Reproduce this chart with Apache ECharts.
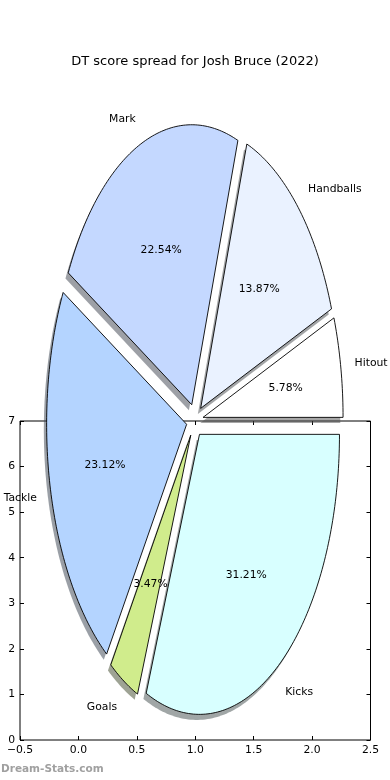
<!DOCTYPE html>
<html><head><meta charset="utf-8">
<script src="https://cdn.jsdelivr.net/npm/echarts@6/dist/echarts.min.js"></script>
<style>html,body{margin:0;padding:0;background:#fff}#c{width:390px;height:780px}</style>
</head><body><div id="c"></div>
<script>
const titleText = 'DT score spread for Josh Bruce (2022)';
const categories = ['Hitout', 'Handballs', 'Mark', 'Tackle', 'Goals', 'Kicks'];
const shares = [5.78, 13.87, 22.54, 23.12, 3.47, 31.21];
const sliceColors = ['#ffffff', '#eaf2ff', '#c4d8ff', '#b4d4ff', '#d0ec8c', '#d8ffff'];
const explode = [0.06, 0.06, 0.06, 0.06, 0.06, 0.06];
const xTicks = [-0.5, 0, 0.5, 1, 1.5, 2, 2.5];
const yTicks = [0, 1, 2, 3, 4, 5, 6, 7];
const watermark = 'Dream-Stats.com';

const FONT = 'DejaVu Sans';
const total = shares.reduce((a, b) => a + b, 0);
const startA = [], endA = [];
let acc = 0;
shares.forEach(v => { startA.push(acc / total * 360); acc += v; endA.push(acc / total * 360); });

function hexToRgb(h) {
  return [parseInt(h.slice(1, 3), 16), parseInt(h.slice(3, 5), 16), parseInt(h.slice(5, 7), 16)];
}
function shadowColor(h) {
  const c = hexToRgb(h).map(v => Math.round(v * 0.3));
  return 'rgba(' + c.join(',') + ',0.5)';
}

function wedgePoints(i, api, ox, oy) {
  const t1 = startA[i], t2 = endA[i];
  const mid = (t1 + t2) / 2 * Math.PI / 180;
  const cx = explode[i] * Math.cos(mid) + ox, cy = explode[i] * Math.sin(mid) + oy;
  const pts = [api.coord([cx, cy])];
  const n = Math.max(2, Math.ceil(t2 - t1));
  for (let k = 0; k <= n; k++) {
    const a = (t1 + (t2 - t1) * k / n) * Math.PI / 180;
    pts.push(api.coord([cx + Math.cos(a), cy + Math.sin(a)]));
  }
  return pts;
}

function renderShadow(params, api) {
  const i = params.dataIndex;
  return { type: 'polygon', shape: { points: wedgePoints(i, api, -0.02, -0.02) },
    style: { fill: shadowColor(sliceColors[i]), stroke: null } };
}
function renderWedge(params, api) {
  const i = params.dataIndex;
  return { type: 'polygon', shape: { points: wedgePoints(i, api, 0, 0) },
    style: { fill: sliceColors[i], stroke: '#000', lineWidth: 0.9 } };
}
function renderLabels(params, api) {
  const i = params.dataIndex;
  const mid = (startA[i] + endA[i]) / 2 * Math.PI / 180;
  const cx = explode[i] * Math.cos(mid), cy = explode[i] * Math.sin(mid);
  const lp = api.coord([cx + 1.1 * Math.cos(mid), cy + 1.1 * Math.sin(mid)]);
  const pp = api.coord([cx + 0.6 * Math.cos(mid), cy + 0.6 * Math.sin(mid)]);
  return { type: 'group', children: [
    { type: 'text', x: lp[0], y: lp[1] + 1.5, style: { text: categories[i], fontFamily: FONT, fontSize: 10.8, fill: '#000',
      align: Math.cos(mid) > 0 ? 'left' : 'right', verticalAlign: 'middle' } },
    { type: 'text', x: pp[0], y: pp[1] + 1.5, style: { text: shares[i].toFixed(2) + '%', fontFamily: FONT, fontSize: 10.8, fill: '#000',
      align: 'center', verticalAlign: 'middle' } }
  ] };
}

const pieData = categories.map((c, i) => ({ name: c, value: [0, 0, shares[i]] }));
const fmtX = v => (v < 0 ? '\u2212' : '') + Math.abs(v).toFixed(1);

const tickStyle = { show: true, inside: true, length: 4, lineStyle: { color: '#000', width: 1 } };
const noLine = { show: false, onZero: false };
const option = {
  animation: false,
  backgroundColor: '#fff',
  title: { text: titleText, left: 'center', top: 50, textStyle: { fontFamily: FONT, fontSize: 13, fontWeight: 'normal', color: '#000' } },
  graphic: [{ type: 'text', left: 1, top: 764, style: { text: watermark, fontFamily: FONT, fontWeight: 'bold', fontSize: 10.5, fill: '#a0a0a0' } }],
  grid: [
    { left: 20, top: 421, width: 350.5, height: 319, show: true, borderColor: '#000', borderWidth: 1, backgroundColor: 'transparent' },
    { left: 0, top: 0, width: 390, height: 780, show: false }
  ],
  xAxis: [
    { gridIndex: 0, type: 'value', position: 'bottom', min: xTicks[0], max: xTicks[xTicks.length - 1], interval: 0.5,
      axisLine: noLine, axisTick: tickStyle, splitLine: { show: false },
      axisLabel: { fontFamily: FONT, fontSize: 10.8, color: '#000', margin: 5, formatter: fmtX } },
    { gridIndex: 0, type: 'value', position: 'top', min: xTicks[0], max: xTicks[xTicks.length - 1], interval: 0.5,
      axisLine: noLine, axisTick: tickStyle, splitLine: { show: false }, axisLabel: { show: false } },
    { gridIndex: 1, type: 'value', min: -1.39143, max: 1.39429, show: false }
  ],
  yAxis: [
    { gridIndex: 0, type: 'value', position: 'left', min: yTicks[0], max: yTicks[yTicks.length - 1], interval: 1,
      axisLine: noLine, axisTick: tickStyle, splitLine: { show: false },
      axisLabel: { fontFamily: FONT, fontSize: 10.8, color: '#000', margin: 5 } },
    { gridIndex: 0, type: 'value', position: 'right', min: yTicks[0], max: yTicks[yTicks.length - 1], interval: 1,
      axisLine: noLine, axisTick: tickStyle, splitLine: { show: false }, axisLabel: { show: false } },
    { gridIndex: 1, type: 'value', min: -1.28429, max: 1.50143, show: false }
  ],
  series: [
    { type: 'custom', xAxisIndex: 2, yAxisIndex: 2, clip: false, z: 2, data: pieData, renderItem: renderShadow, silent: true },
    { type: 'custom', xAxisIndex: 2, yAxisIndex: 2, clip: false, z: 3, data: pieData, renderItem: renderWedge, silent: true },
    { type: 'custom', xAxisIndex: 2, yAxisIndex: 2, clip: false, z: 4, data: pieData, renderItem: renderLabels, silent: true }
  ]
};
const chart = echarts.init(document.getElementById('c'), null, { renderer: 'canvas' });
chart.setOption(option);
</script></body></html>
